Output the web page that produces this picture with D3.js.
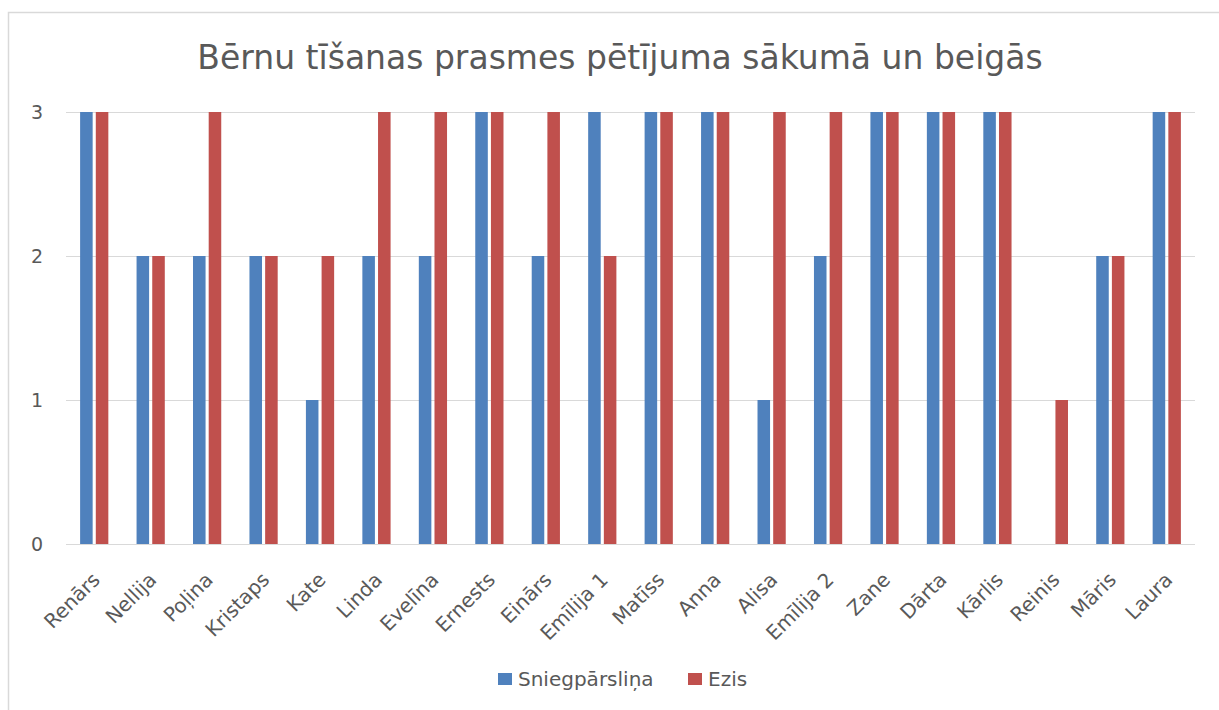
<!DOCTYPE html>
<html>
<head>
<meta charset="utf-8">
<title>Bērnu tīšanas prasmes</title>
<script src="https://d3js.org/d3.v7.min.js"></script>
<style>
  body { margin: 0; background: #fff; }
  text { font-family: "DejaVu Sans", sans-serif; fill: #595959; }
</style>
</head>
<body>
<div id="chart"></div>
<script>
// data
const names = ["Renārs", "Nellija", "Poļina", "Kristaps", "Kate", "Linda", "Evelīna", "Ernests", "Einārs", "Emīlija 1",
  "Matīss", "Anna", "Alisa", "Emīlija 2", "Zane", "Dārta", "Kārlis", "Reinis", "Māris", "Laura"];
const sniegparslina = [3, 2, 2, 2, 1, 2, 2, 3, 2, 3, 3, 3, 1, 2, 3, 3, 3, 0, 2, 3];
const ezis = [3, 2, 3, 2, 2, 3, 3, 3, 3, 2, 3, 3, 3, 3, 3, 3, 3, 1, 2, 3];
const seriesNames = ["Sniegpārsliņa", "Ezis"];
const colors = ["#4F81BD", "#C0504D"];
const yTicks = [0, 1, 2, 3];

const W = 1219, H = 710;
const plot = {left: 66, right: 1195, top: 112, bottom: 544};

const svg = d3.select("#chart").append("svg")
  .attr("width", W).attr("height", H);

// chart frame
svg.append("rect")
  .attr("x", 8.5).attr("y", 12.5)
  .attr("width", W).attr("height", H)
  .attr("fill", "#fff").attr("stroke", "#d9d9d9").attr("stroke-width", 1.5);

const x = d3.scaleBand().domain(names).range([plot.left, plot.right]).paddingInner(0.5).paddingOuter(0.25);
const x1 = d3.scaleBand().domain([0, 1]).range([0, x.bandwidth()]).paddingInner(0.2);
const y = d3.scaleLinear().domain([0, 3]).range([plot.bottom, plot.top]);

// gridlines
svg.append("g")
  .selectAll("line")
  .data(yTicks)
  .join("line")
    .attr("x1", plot.left).attr("x2", plot.right)
    .attr("y1", d => Math.round(y(d)) + 0.5).attr("y2", d => Math.round(y(d)) + 0.5)
    .attr("stroke", "#d9d9d9").attr("stroke-width", 1);

// y axis labels
const yAxis = svg.append("g")
  .attr("transform", "translate(43,0)")
  .call(d3.axisLeft(y).tickValues(yTicks).tickSize(0).tickPadding(0).tickFormat(d3.format("d")));
yAxis.select(".domain").remove();
yAxis.selectAll("text").style("font-size", "19px").style("font-family", "DejaVu Sans").attr("fill", "#595959");

// bars
const rows = names.map((n, i) => ({name: n, vals: [sniegparslina[i], ezis[i]]}));
svg.append("g")
  .selectAll("g")
  .data(rows)
  .join("g")
    .attr("transform", d => `translate(${x(d.name)},0)`)
  .selectAll("rect")
  .data(d => d.vals.map((v, k) => ({k, v})))
  .join("rect")
    .attr("x", d => x1(d.k))
    .attr("width", x1.bandwidth())
    .attr("y", d => y(d.v))
    .attr("height", d => y(0) - y(d.v))
    .attr("fill", d => colors[d.k]);

// x labels, rotated
svg.append("g")
  .selectAll("text")
  .data(names)
  .join("text")
    .attr("transform", d => `translate(${x(d) + x.bandwidth() / 2 + 7},${plot.bottom + 37}) rotate(-45)`)
    .attr("text-anchor", "end")
    .style("font-size", "20px")
    .text(d => d);

// title
svg.append("text")
  .attr("x", 620).attr("y", 69)
  .attr("text-anchor", "middle")
  .style("font-size", "33px")
  .text("Bērnu tīšanas prasmes pētījuma sākumā un beigās");

// legend
const legend = svg.append("g").attr("transform", "translate(498,679)");
const lg = legend.selectAll("g")
  .data(seriesNames)
  .join("g")
    .attr("transform", (d, i) => `translate(${i * 190},0)`);
lg.append("rect")
  .attr("x", 0).attr("y", -6).attr("width", 14).attr("height", 12)
  .attr("fill", (d, i) => colors[i]);
lg.append("text")
  .attr("x", 20).attr("dy", "0.36em")
  .style("font-size", "20px")
  .text(d => d);
</script>
</body>
</html>
